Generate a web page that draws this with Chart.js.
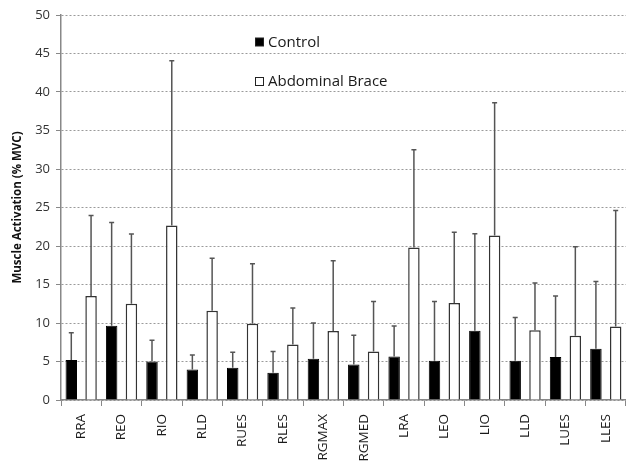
<!DOCTYPE html>
<html><head><meta charset="utf-8">
<script src="https://cdn.jsdelivr.net/npm/chart.js@4"></script>
<style>html,body{margin:0;padding:0;background:#fff}#wrap{width:630px;height:461px}</style>
</head><body><div id="wrap"><canvas id="c"></canvas></div>
<script>
const categories = ['RRA','REO','RIO','RLD','RUES','RLES','RGMAX','RGMED','LRA','LEO','LIO','LLD','LUES','LLES'];
const controlMean = [5.2,9.65,5.0,3.95,4.2,3.55,5.35,4.6,5.65,5.1,9.0,5.1,5.6,6.65];
const controlErrTop = [8.75,23.05,7.75,5.85,6.2,6.3,10.0,8.4,9.6,12.8,21.6,10.7,13.5,15.4];
const braceMean = [13.5,12.5,22.65,11.6,9.9,7.2,8.95,6.3,19.8,12.6,21.35,9.05,8.35,9.55];
const braceErrTop = [23.95,21.55,44.05,18.4,17.7,11.95,18.1,12.8,32.5,21.8,38.6,15.2,19.9,24.6];
const yTicks = [0,5,10,15,20,25,30,35,40,45,50];

const errorBars = {
  id:'errorBars',
  afterDatasetsDraw(chart){
    const ctx = chart.ctx, ys = chart.scales.y;
    chart.data.datasets.forEach((ds,i)=>{
      const meta = chart.getDatasetMeta(i);
      meta.data.forEach((el,j)=>{
        const top = ys.getPixelForValue(ds.errTop[j]);
        const base = el.y;
        ctx.save();
        ctx.strokeStyle = '#555';
        ctx.lineWidth = 1.5;
        ctx.beginPath();
        ctx.moveTo(el.x, base);
        ctx.lineTo(el.x, top);
        ctx.moveTo(el.x-2.5, top);
        ctx.lineTo(el.x+2.5, top);
        ctx.stroke();
        ctx.restore();
      });
    });
  }
};

const inLegend = {
  id:'inLegend',
  afterDraw(chart){
    const ctx = chart.ctx;
    const items = [
      {label:'Control', fill:'#000', y:42.5},
      {label:'Abdominal Brace', fill:'#fff', y:82}
    ];
    ctx.save();
    ctx.font = '15px "Open Sans"';
    ctx.textBaseline = 'middle';
    items.forEach(it=>{
      ctx.fillStyle = it.fill;
      ctx.fillRect(255.5, it.y-4.5, 8, 8);
      ctx.strokeStyle = '#222';
      ctx.lineWidth = 1;
      ctx.strokeRect(255.5, it.y-4.5, 8, 8);
      ctx.fillStyle = '#1a1a1a';
      ctx.fillText(it.label, 268, it.y);
    });
    ctx.restore();
  }
};

new Chart(document.getElementById('c'), {
  type:'bar',
  data:{
    labels: categories,
    datasets:[
      {label:'Control', data: controlMean, errTop: controlErrTop, backgroundColor:'#000', borderColor:'#000', borderWidth:1},
      {label:'Abdominal Brace', data: braceMean, errTop: braceErrTop, backgroundColor:'#fff', borderColor:'#333', borderWidth:1.5}
    ]
  },
  options:{
    responsive:true, maintainAspectRatio:false, animation:false,
    layout:{padding:{top:15,right:0,left:0,bottom:0}},
    plugins:{legend:{display:false}, tooltip:{enabled:false}},
    datasets:{bar:{barPercentage:0.58, categoryPercentage:0.98}},
    scales:{
      x:{
        grid:{offset:true, drawOnChartArea:false, color:'#888', tickLength:6},
        border:{color:'#888', width:1.5},
        ticks:{color:'#1a1a1a', font:{family:'Open Sans', size:13.5}, minRotation:90, maxRotation:90, padding:8, autoSkip:false},
        afterFit(s){ s.height = 61; }
      },
      y:{
        min:0, max:50,
        afterBuildTicks(s){ s.ticks = yTicks.map(v=>({value:v})); },
        grid:{color:'#9a9a9a', tickLength:5, tickColor:'#888', lineWidth:1, drawTicks:true},
        border:{color:'#888', width:1.5, dash:[2,2], display:true},
        ticks:{color:'#333', font:{family:'Open Sans', size:13}, padding:6},
        title:{display:true, text:'Muscle Activation (% MVC)', color:'#111', font:{family:'Open Sans', size:11.5, weight:'bold'}, padding:{top:11,bottom:0}},
        afterFit(s){ s.width = 61; }
      }
    }
  },
  plugins:[errorBars, inLegend]
});
</script>
</body></html>
